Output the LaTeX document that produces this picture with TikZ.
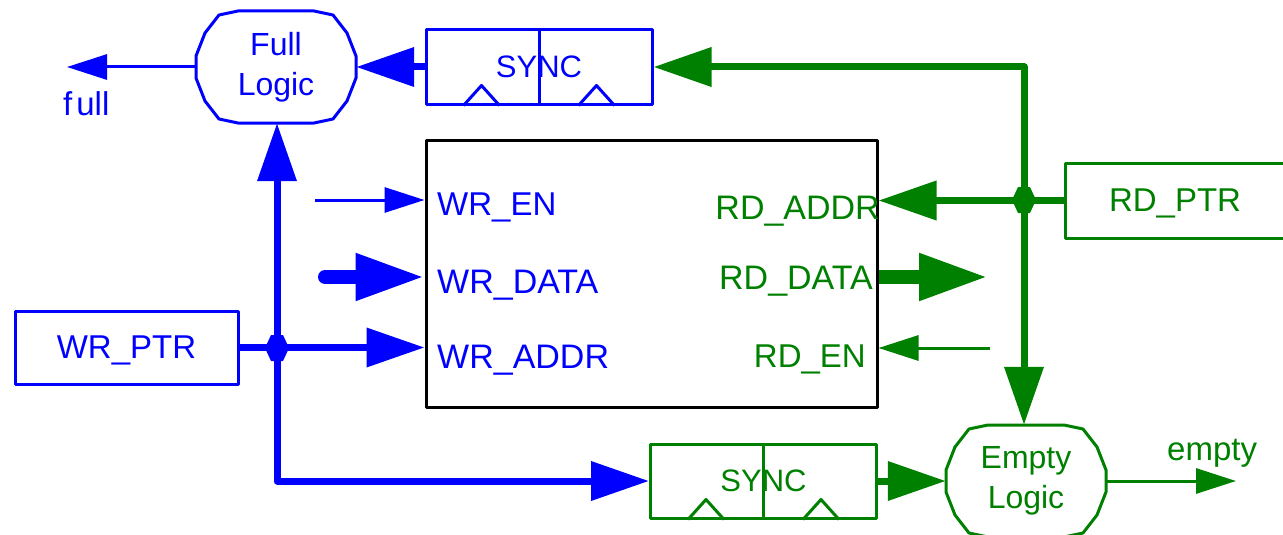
\documentclass[tikz,border=0pt]{standalone}
\usepackage{fontspec}
\setmainfont{Liberation Sans}
\usetikzlibrary{arrows.meta}
\definecolor{wblue}{RGB}{0,0,255}
\definecolor{rgreen}{RGB}{0,128,0}

\tikzset{
  lbl/.style={inner sep=0pt, font=\fontsize{33}{36}\selectfont},
  biglbl/.style={inner sep=0pt, font=\fontsize{34}{36}\selectfont},
  frame/.style={draw, line width=3pt, line join=round},
  portbox/.style={frame, inner sep=0pt, text depth=0pt, font=\fontsize{33}{36}\selectfont},
  syncbox/.style={frame, inner sep=0pt, text depth=0pt, minimum width=226pt, minimum height=74pt,
    font=\fontsize{31}{36}\selectfont},
  logic/.style={inner sep=0pt, minimum width=160pt, minimum height=112pt, align=center,
    font=\fontsize{32}{40}\selectfont},
  bus/.style={line width=7pt, line join=round},
  wire/.style={line width=3pt},
  wide/.style={line width=14pt},
  bigtip/.style={-{Triangle[length=58pt,width=38pt]}},
  hugetip/.style={-{Triangle[length=69pt,width=44pt]}},
  smalltip/.style={-{Triangle[length=40pt,width=25pt]}},
}

% rounded sixteen-sided outline of a logic block
\newcommand\logicoutline[2]{%
  \draw[frame,#2,shift={(#1.center)}]
    (38,56) -- (57,52) -- (71,34) -- (80,11) -- (80,-11) -- (71,-34) -- (57,-52) -- (38,-56)
    -- (-38,-56) -- (-57,-52) -- (-71,-34) -- (-80,-11) -- (-80,11) -- (-71,34) -- (-57,52)
    -- (-38,56) -- cycle;}

% synchroniser: two flops, each with a clock wedge
\newcommand\syncdetail[2]{%
  \draw[frame,#2] (#1.north) -- (#1.south);
  \draw[frame,#2] ([xshift=-75.5pt]#1.south) -- ++(18,-20) -- ++(18,20);
  \draw[frame,#2] ([xshift=39.5pt]#1.south) -- ++(18,-20) -- ++(18,20);}

% bus junction dot
\newcommand\junction[2]{%
  \fill[#2,shift={(#1)}] (-12,0) -- (-6,-13) -- (6,-13) -- (12,0) -- (6,13) -- (-6,13) -- cycle;}

\begin{document}
\begin{tikzpicture}[x=1pt,y=-1pt]
\useasboundingbox (0,0) rectangle (1283,535);
\clip (0,0) rectangle (1283,535);

% ---- memory array ----
\node[frame, draw=black, minimum width=451pt, minimum height=267pt, inner sep=0pt] (mem) at (651.5,274) {};

\node[lbl, anchor=base west, text=wblue] (lwren) at (437,215) {WR\_EN};
\node[biglbl, anchor=base west, text=wblue] (lwrdata) at (437,293) {WR\_DATA};
\node[biglbl, anchor=base west, text=wblue] (lwraddr) at (437,368) {WR\_ADDR};
\node[biglbl, anchor=base east, text=rgreen] (lrdaddr) at (880,219) {RD\_ADDR};
\node[biglbl, anchor=base east, text=rgreen] (lrddata) at (873,289) {RD\_DATA};
\node[lbl, anchor=base east, text=rgreen] (lrden) at (866,367) {RD\_EN};

% ---- write side ----
\node[portbox, draw=wblue, text=wblue, minimum width=223pt, minimum height=73pt] (wrptr) at (126.5,347.5) {WR\_PTR};
\node[logic, text=wblue] (fl) at (276,67) {Full\\Logic};
\logicoutline{fl}{wblue}
\node[syncbox, draw=wblue, text=wblue] (s1) at (539,67) {SYNC};
\syncdetail{s1}{wblue}

\coordinate (wj) at (277,348);
\coordinate (fullout) at (67,67);
\coordinate (wrenin) at (315,200);
\coordinate (wrdin) at (325,277);

\draw[wblue, wire, smalltip] (fl.west) -- (fullout);
\node[lbl, anchor=base west, text=wblue] (lfull) at (63,115) {f\kern4pt ull};
\draw[wblue, bus, bigtip] (s1.west) -- (fl.east);
\draw[wblue, bus, bigtip] (wj) -- (wj |- fl.south);
\draw[wblue, bus, bigtip] (wrptr.east) -- (wrptr.east -| mem.west);
\draw[wblue, wire, smalltip] (wrenin) -- (wrenin -| mem.west);
\draw[wblue, wide, hugetip, line cap=round] (wrdin) -- (wrdin -| mem.west);

% ---- read side ----
\node[portbox, draw=none, text=rgreen, minimum width=220pt, minimum height=75pt] (rdptr) at (1175,200.5) {RD\_PTR};
\draw[frame, draw=rgreen] (1290,163) -- (1065,163) -- (1065,238) -- (1290,238);
\node[logic, text=rgreen] (el) at (1026,481) {Empty\\Logic};
\logicoutline{el}{rgreen}
\node[syncbox, draw=rgreen, text=rgreen] (s2) at (763.5,481) {SYNC};
\syncdetail{s2}{rgreen}

\draw[wblue, bus, bigtip] (wj) |- (s2.west);
\junction{wj}{wblue}

\coordinate (gj) at (1024,200);
\coordinate (rdout) at (988,277);
\coordinate (rdenin) at (990,348);
\coordinate (emptyout) at (1236,481);

\draw[rgreen, bus, bigtip] (gj) |- (s1.east);
\draw[rgreen, bus, bigtip] (rdptr.west) -- (rdptr.west -| mem.east);
\draw[rgreen, bus, bigtip] (gj) -- (gj |- el.north);
\draw[rgreen, wide, hugetip] (mem.east |- rdout) -- (rdout);
\draw[rgreen, wire, smalltip] (rdenin) -- (rdenin -| mem.east);
\draw[rgreen, bus, bigtip] (s2.east) -- (el.west);
\draw[rgreen, wire, smalltip] (el.east) -- (emptyout);
\node[lbl, anchor=base west, text=rgreen] (lempty) at (1167,460) {empty};
\junction{gj}{rgreen}
\end{tikzpicture}
\end{document}
